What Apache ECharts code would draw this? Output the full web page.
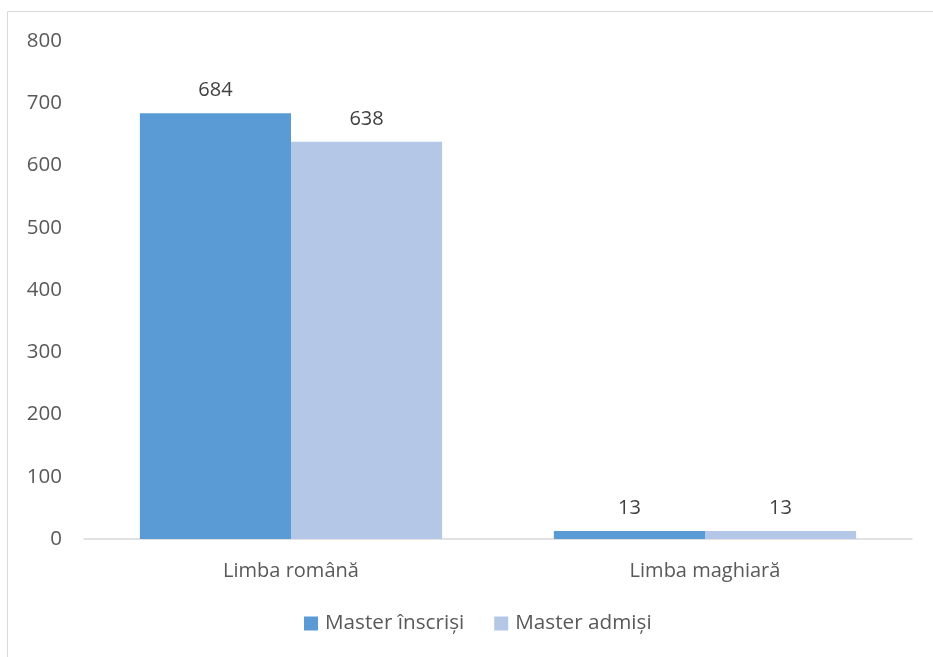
<!DOCTYPE html>
<html><head><meta charset="utf-8">
<script src="https://cdn.jsdelivr.net/npm/echarts@6/dist/echarts.min.js"></script>
<style>html,body{margin:0;padding:0;background:#fff}#c{width:933px;height:657px}</style>
</head><body><div id="c"></div>
<script>
const categories = ['Limba română', 'Limba maghiară'];
const seriesNames = ['Master înscriși', 'Master admiși'];
const inscrisi = [684, 13];
const admisi = [638, 13];
const yTicks = { min: 0, max: 800, interval: 100 };

const font = '"Open Sans", Lato, sans-serif';
const txt = '#595959';
const chart = echarts.init(document.getElementById('c'));
chart.setOption({
  animation: false,
  textStyle: { fontFamily: font },
  graphic: [{
    type: 'rect', shape: { x: 7.5, y: 11.5, width: 1000, height: 700 },
    style: { fill: 'none', stroke: '#d9d9d9', lineWidth: 1 }, silent: true
  }],
  grid: { left: 84, right: 21, top: 41, bottom: 118, containLabel: false },
  legend: {
    bottom: 23, left: 304, padding: 0, itemWidth: 14, itemHeight: 14, itemGap: 30,
    icon: 'rect',
    textStyle: { color: txt, fontSize: 20.7, fontFamily: font, padding: [0, 0, 0, 2] },
    data: seriesNames
  },
  xAxis: {
    type: 'category', data: categories,
    axisLine: { lineStyle: { color: '#d9d9d9', width: 1.5 } },
    axisTick: { show: false },
    axisLabel: { color: txt, fontSize: 20, margin: 22, fontFamily: font }
  },
  yAxis: {
    type: 'value', min: yTicks.min, max: yTicks.max, interval: yTicks.interval,
    axisLine: { show: false }, axisTick: { show: false },
    splitLine: { show: false },
    axisLabel: { color: txt, fontSize: 20.5, margin: 22, fontFamily: font }
  },
  series: [
    { name: seriesNames[0], type: 'bar', data: inscrisi, barGap: '0%', barCategoryGap: '27%',
      itemStyle: { color: '#5b9bd5' },
      label: { show: true, position: 'top', distance: 13, color: '#404040', fontSize: 20, fontFamily: font } },
    { name: seriesNames[1], type: 'bar', data: admisi, barGap: '0%', barCategoryGap: '27%',
      itemStyle: { color: '#b4c7e7' },
      label: { show: true, position: 'top', distance: 13, color: '#404040', fontSize: 20, fontFamily: font } }
  ]
});
</script></body></html>
